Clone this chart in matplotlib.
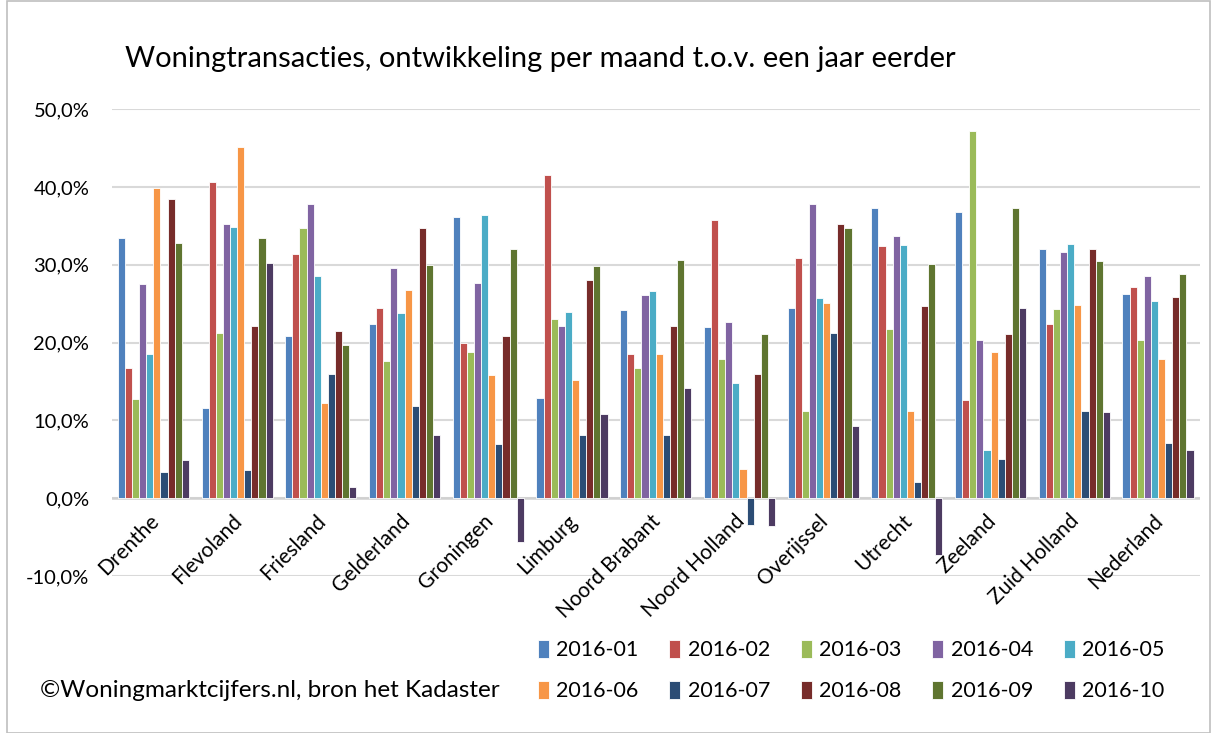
import matplotlib.pyplot as plt
import numpy as np
from matplotlib.patches import Rectangle
from matplotlib.ticker import FuncFormatter

plt.rcParams['font.family'] = ['Lato', 'DejaVu Sans']

provincies = ['Drenthe', 'Flevoland', 'Friesland', 'Gelderland', 'Groningen', 'Limburg',
              'Noord Brabant', 'Noord Holland', 'Overijssel', 'Utrecht', 'Zeeland',
              'Zuid Holland', 'Nederland']
maanden = ['2016-01', '2016-02', '2016-03', '2016-04', '2016-05',
           '2016-06', '2016-07', '2016-08', '2016-09', '2016-10']

# groei per maand (%), per provincie in dezelfde volgorde als hierboven
m_2016_01 = [33.5, 11.6, 20.9, 22.4, 36.2, 12.9, 24.2, 22.0, 24.5, 37.3, 36.8, 32.1, 26.2]
m_2016_02 = [16.8, 40.7, 31.4, 24.5, 19.9, 41.5, 18.5, 35.8, 30.9, 32.4, 12.6, 22.4, 27.1]
m_2016_03 = [12.8, 21.2, 34.8, 17.7, 18.8, 23.1, 16.8, 17.9, 11.2, 21.8, 47.2, 24.3, 20.3]
m_2016_04 = [27.5, 35.3, 37.8, 29.6, 27.7, 22.1, 26.1, 22.6, 37.8, 33.7, 20.3, 31.6, 28.6]
m_2016_05 = [18.5, 34.9, 28.6, 23.8, 36.4, 23.9, 26.7, 14.8, 25.8, 32.6, 6.2, 32.7, 25.3]
m_2016_06 = [39.9, 45.2, 12.3, 26.8, 15.8, 15.2, 18.5, 3.8, 25.1, 11.2, 18.8, 24.8, 17.9]
m_2016_07 = [3.4, 3.6, 16.0, 11.8, 7.0, 8.1, 8.2, -3.4, 21.3, 2.1, 5.1, 11.2, 7.1]
m_2016_08 = [38.4, 22.1, 21.5, 34.7, 20.9, 28.0, 22.1, 16.0, 35.2, 24.7, 21.1, 32.1, 25.9]
m_2016_09 = [32.8, 33.5, 19.7, 30.0, 32.0, 29.9, 30.6, 21.1, 34.7, 30.1, 37.3, 30.5, 28.8]
m_2016_10 = [4.9, 30.2, 1.5, 8.1, -5.6, 10.8, 14.2, -3.6, 9.3, -7.3, 24.5, 11.1, 6.2]

reeksen = [m_2016_01, m_2016_02, m_2016_03, m_2016_04, m_2016_05,
           m_2016_06, m_2016_07, m_2016_08, m_2016_09, m_2016_10]
kleuren = ['#4F81BD', '#C0504D', '#9BBB59', '#8064A2', '#4BACC6',
           '#F79646', '#2C4D75', '#772C2A', '#5F7530', '#4D3B62']

fig = plt.figure(figsize=(12.12, 7.33), dpi=100)
ax = fig.add_axes([0.092, 0.214, 0.898, 0.637])

x = np.arange(len(provincies))
breedte = 0.085
staven = []
for i, (reeks, kleur) in enumerate(zip(reeksen, kleuren)):
    b = ax.bar(x + (i - 4.5) * breedte, reeks, breedte, color=kleur,
               edgecolor='white', linewidth=0.6, label=maanden[i], zorder=3)
    staven.append(b)

ax.set_xlim(-0.5, len(provincies) - 0.5)
ax.set_ylim(-10, 50)
ax.set_yticks(np.arange(-10, 51, 10))
ax.yaxis.set_major_formatter(FuncFormatter(lambda v, p: f'{v:.1f}%'.replace('.', ',')))
ax.tick_params(axis='y', length=0, pad=16, labelsize=14.5)
ax.set_xticks([])
ax.grid(axis='y', color='#d9d9d9', linewidth=1.5, zorder=0)
ax.axhline(0, color='#d0d0d0', linewidth=1.8, zorder=2)
for s in ax.spines.values():
    s.set_visible(False)

# categorielabels schuin onder de nullijn
for i, naam in enumerate(provincies):
    ax.text(i - 0.06, -1.6, naam, rotation=45, ha='right', va='top',
            rotation_mode='anchor', fontsize=15)

fig.text(0.103, 0.92, 'Woningtransacties, ontwikkeling per maand t.o.v. een jaar eerder',
         fontsize=21, ha='left', va='center')
fig.text(0.033, 0.058, '©Woningmarktcijfers.nl, bron het Kadaster',
         fontsize=17.5, ha='left', va='center')

# legenda rij voor rij
volgorde = [0, 5, 1, 6, 2, 7, 3, 8, 4, 9]
fig.legend([staven[k] for k in volgorde], [maanden[k] for k in volgorde],
           ncol=5, loc='center left', bbox_to_anchor=(0.428, 0.085), frameon=False,
           fontsize=15.5, handlelength=0.5, handleheight=0.9, handletextpad=0.35,
           columnspacing=1.43, labelspacing=0.95)

fig.patches.append(Rectangle((0.006, 0.0), 0.992, 0.998, transform=fig.transFigure,
                             fill=False, edgecolor='#bfbfbf', linewidth=1.2))

fig.savefig('out.png', dpi=100, facecolor='white')
